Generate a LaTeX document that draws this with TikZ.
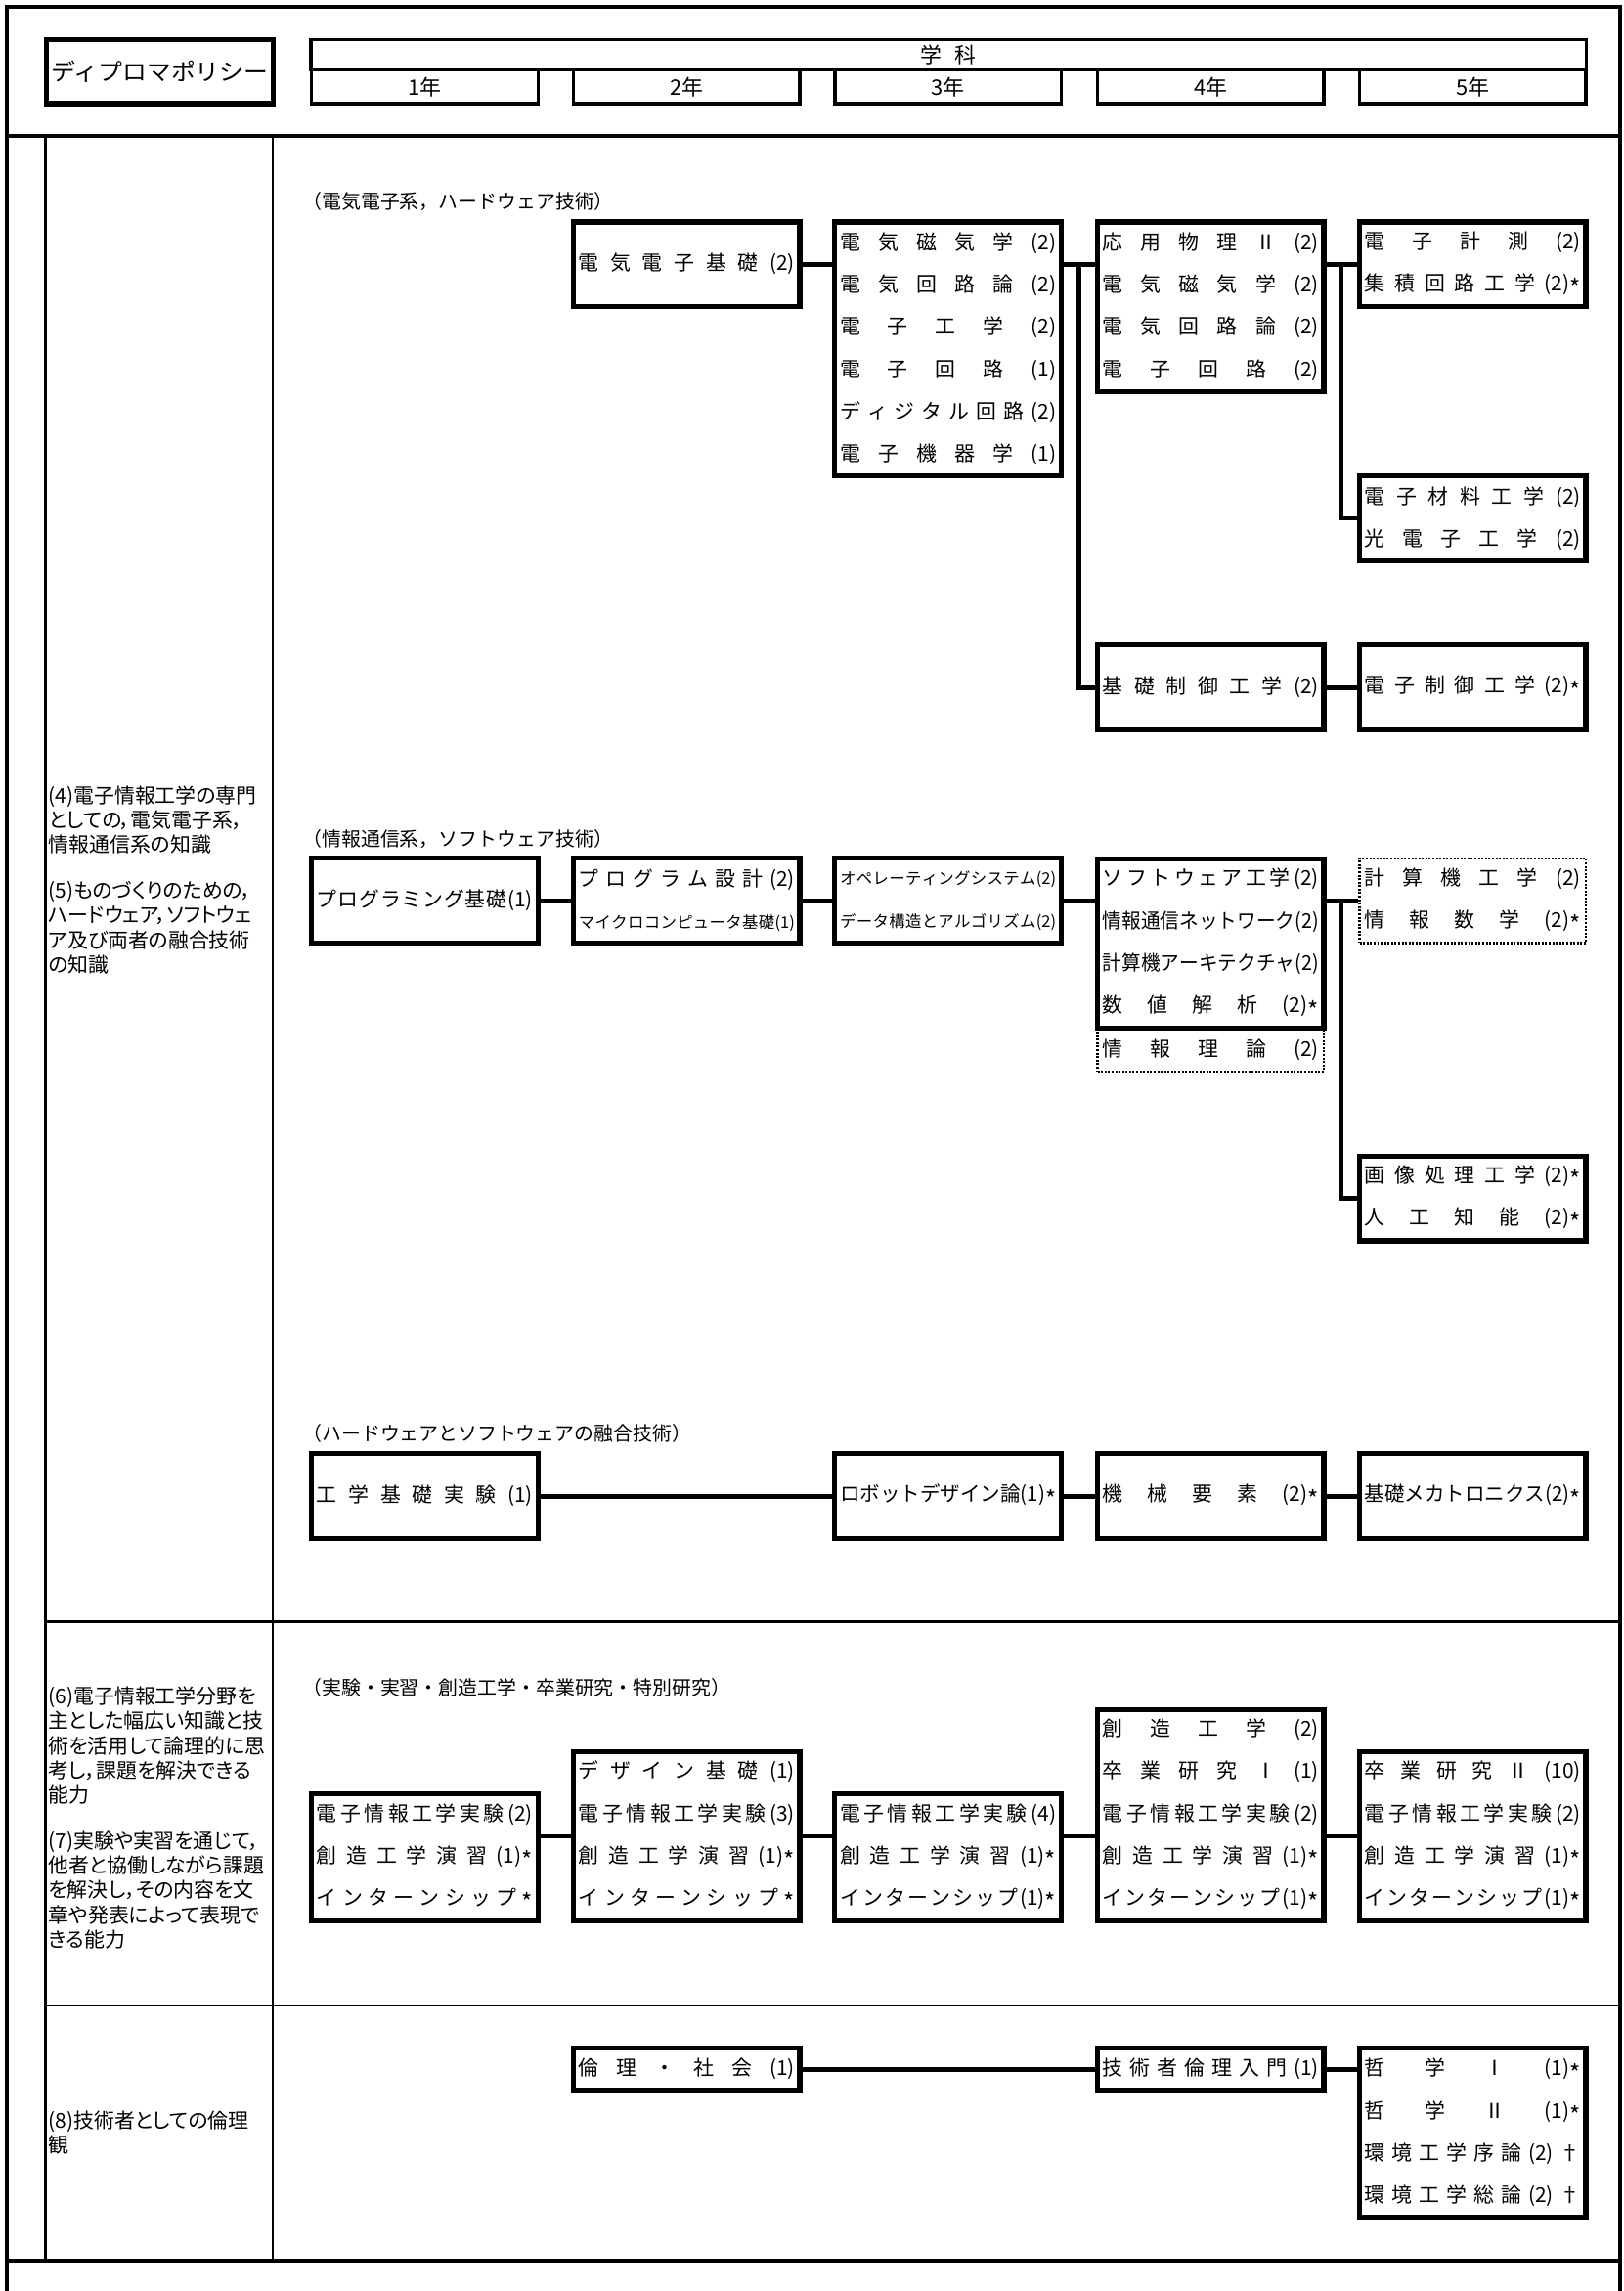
\documentclass[tikz,border=0pt]{standalone}
\usepackage{fontspec}
\usepackage{graphicx}
\setmainfont{Noto Sans CJK JP}
\newfontfamily\pfont{Noto Sans CJK JP}[RawFeature=+palt]
\newsavebox\rwbox
\newlength\rwwd
\setlength\rwwd{111pt}
\newcommand\rw[1]{{\spaceskip=0pt plus 1fil\relax\sbox\rwbox{#1}\ifdim\wd\rwbox>\rwwd\resizebox{\rwwd}{\ht\rwbox}{\usebox\rwbox}\else\makebox[\rwwd][s]{#1}\fi}}
\newcommand\sm[1]{{\fontsize{8.25pt}{10pt}\selectfont #1}}
\newcommand\ask{\raisebox{-.3em}{\scalebox{1.15}{*}}}
\tikzset{
  box/.style={draw, line width=2.6pt, minimum width=116.25pt, inner sep=0pt, align=center,
    font=\fontsize{10.5pt}{21.75pt}\selectfont},
  dbox/.style={box, line width=1.2pt, dash pattern=on 1pt off 0.8pt},
  nr/.style={minimum height=#1*21.75pt},
  conn/.style={line width=2.4pt},
  frameline/.style={line width=2pt},
  thinline/.style={line width=1.3pt},
  yearbox/.style={draw, line width=1.6pt, minimum width=116.25pt, minimum height=17.25pt, inner sep=0pt,
    font=\fontsize{11pt}{13pt}\selectfont},
  ltext/.style={anchor=north west, align=left, inner sep=0pt, font=\pfont\fontsize{10.5pt}{12.75pt}\selectfont},
  lab/.style={anchor=west, inner sep=0pt, font=\fontsize{10pt}{12pt}\selectfont}
}
\begin{document}
\begin{tikzpicture}[x=0.75pt,y=-0.75pt]
\useasboundingbox (0,0) rectangle (1112,1569.5);
% frame
\draw[frameline] (5,1572) -- (5,5) -- (1110,5) -- (1110,1572);
\draw[frameline] (5,93) -- (1110,93);
\draw[thinline] (31,93) -- (31,1549);
\draw[thinline] (187,93) -- (187,1549);
\draw[thinline] (31,1111) -- (1110,1111);
\draw[thinline] (31,1374) -- (1110,1374);
\draw[frameline] (5,1549) -- (1110,1549);
% header
\node[draw, line width=2.6pt, minimum width=116.25pt, minimum height=33pt, inner sep=0pt] (dp) at (109.5,49)
  {\scalebox{1.04}[1]{\fontsize{12pt}{14pt}\selectfont ディプロマポリシー}};
\node[draw, line width=1.6pt, minimum width=655.5pt, minimum height=15.75pt, inner sep=0pt,
  font=\fontsize{11pt}{13pt}\selectfont] (gk) at (650,37.5) {学\hspace{0.6em}科};
\node[yearbox] (y1) at (291,59.5) {1年};
\node[yearbox] (y2) at (470.5,59.5) {2年};
\node[yearbox] (y3) at (649.5,59.5) {3年};
\node[yearbox] (y4) at (829.5,59.5) {4年};
\node[yearbox] (y5) at (1009,59.5) {5年};
% left texts
\node[ltext] (p45) at (33,538) {(4)電子情報工学の専門\\としての，電気電子系，\\情報通信系の知識\\[10.5pt](5)ものづくりのための，\\ハードウェア，ソフトウェ\\ア及び両者の融合技術\\の知識};
\node[ltext] (p67) at (33,1155) {(6)電子情報工学分野を\\主とした幅広い知識と技\\術を活用して論理的に思\\考し，課題を解決できる\\能力\\[10.5pt](7)実験や実習を通じて，\\他者と協働しながら課題\\を解決し，その内容を文\\章や発表によって表現で\\きる能力};
\node[ltext] (p8) at (33,1446) {(8)技術者としての倫理\\観};
% labels
\node[lab] (l1) at (207,138) {（電気電子系，ハードウェア技術）};
\node[lab] (l2) at (207,575) {（情報通信系，ソフトウェア技術）};
\node[lab] (l3) at (207,982) {（ハードウェアとソフトウェアの融合技術）};
\node[lab] (l4) at (207,1156) {（実験・実習・創造工学・卒業研究・特別研究）};
% block 1
\node[box,nr=2] (b11) at (470.5,181) {\rw{電 気 電 子 基 礎 (2)}};
\node[box,nr=6] (b12) at (649.5,239) {\rw{電 気 磁 気 学 (2)}\\\rw{電 気 回 路 論 (2)}\\\rw{電 子 工 学 (2)}\\\rw{電 子 回 路 (1)}\\\rw{デ ィ ジ タ ル 回 路 (2)}\\\rw{電 子 機 器 学 (1)}};
\node[box,nr=4] (b13) at (829.5,210) {\rw{応 用 物 理 Ⅱ (2)}\\\rw{電 気 磁 気 学 (2)}\\\rw{電 気 回 路 論 (2)}\\\rw{電 子 回 路 (2)}};
\node[box,nr=2] (b14) at (1009,181) {\rw{電 子 計 測 (2)}\\\rw{集 積 回 路 工 学 (2)\ask}};
\node[box,nr=2] (b15) at (1009,355) {\rw{電 子 材 料 工 学 (2)}\\\rw{光 電 子 工 学 (2)}};
\node[box,nr=2] (b16) at (829.5,471) {\rw{基 礎 制 御 工 学 (2)}};
\node[box,nr=2] (b17) at (1009,471) {\rw{電 子 制 御 工 学 (2)\ask}};
\coordinate (j1) at (739,181);
\coordinate (j2) at (919,181);
\draw[conn] (b11.east) -- (b12.west |- b11.east);
\draw[conn] (b12.east |- b11.east) -- (b13.west |- b11.east);
\draw[conn] (j1) |- (b16.west);
\draw[conn] (b13.east |- b11.east) -- (b14.west);
\draw[conn] (j2) |- (b15.west);
\draw[conn] (b16) -- (b17);
% block 2
\node[box,nr=2] (b21) at (291,617) {\rw{プ ロ グ ラ ミ ン グ 基 礎 (1)}};
\node[box,nr=2] (b22) at (470.5,617) {\rw{プ ロ グ ラ ム 設 計 (2)}\\\rw{\sm{マ イ ク ロ コ ン ピ ュ ー タ 基 礎 (1)}}};
\node[box,nr=2] (b23) at (649.5,617) {\rw{\sm{オ ペ レ ー テ ィ ン グ シ ス テ ム (2)}}\\\rw{\sm{デ ー タ 構 造 と ア ル ゴ リ ズ ム (2)}}};
\node[dbox,nr=1] (b24b) at (829.5,719.5) {\rw{情 報 理 論 (2)}};
\node[box,nr=4] (b24) at (829.5,646.5) {\rw{ソ フ ト ウ ェ ア 工 学 (2)}\\\rw{情 報 通 信 ネ ッ ト ワ ー ク (2)}\\\rw{計 算 機 ア ー キ テ ク チ ャ (2)}\\\rw{数 値 解 析 (2)\ask}};
\node[dbox,nr=2] (b25) at (1009,617) {\rw{計 算 機 工 学 (2)}\\\rw{情 報 数 学 (2)\ask}};
\node[box,nr=2] (b26) at (1009,821) {\rw{画 像 処 理 工 学 (2)\ask}\\\rw{人 工 知 能 (2)\ask}};
\coordinate (j3) at (919,617);
\draw[conn] (b21) -- (b22);
\draw[conn] (b22) -- (b23);
\draw[conn] (b23.east) -- (b24.west |- b23.east);
\draw[conn] (b24.east |- b23.east) -- (b25.west);
\draw[conn] (j3) |- (b26.west);
% block 3
\node[box,nr=2] (b31) at (291,1025) {\rw{工 学 基 礎 実 験 (1)}};
\node[box,nr=2] (b32) at (649.5,1025) {\rw{ロ ボ ッ ト デ ザ イ ン 論 (1)\ask}};
\node[box,nr=2] (b33) at (829.5,1025) {\rw{機 械 要 素 (2)\ask}};
\node[box,nr=2] (b34) at (1009,1025) {\rw{基 礎 メ カ ト ロ ニ ク ス (2)\ask}};
\draw[conn] (b31) -- (b32);
\draw[conn] (b32) -- (b33);
\draw[conn] (b33) -- (b34);
% block 4
\node[box,nr=3] (b41) at (291,1272.5) {\rw{電 子 情 報 工 学 実 験 (2)}\\\rw{創 造 工 学 演 習 (1)\ask}\\\rw{イ ン タ ー ン シ ッ プ \ask}};
\node[box,nr=4] (b42) at (470.5,1258) {\rw{デ ザ イ ン 基 礎 (1)}\\\rw{電 子 情 報 工 学 実 験 (3)}\\\rw{創 造 工 学 演 習 (1)\ask}\\\rw{イ ン タ ー ン シ ッ プ \ask}};
\node[box,nr=3] (b43) at (649.5,1272.5) {\rw{電 子 情 報 工 学 実 験 (4)}\\\rw{創 造 工 学 演 習 (1)\ask}\\\rw{イ ン タ ー ン シ ッ プ (1)\ask}};
\node[box,nr=5] (b44) at (829.5,1243.5) {\rw{創 造 工 学 (2)}\\\rw{卒 業 研 究 Ⅰ (1)}\\\rw{電 子 情 報 工 学 実 験 (2)}\\\rw{創 造 工 学 演 習 (1)\ask}\\\rw{イ ン タ ー ン シ ッ プ (1)\ask}};
\node[box,nr=4] (b45) at (1009,1258) {\rw{卒 業 研 究 Ⅱ (10)}\\\rw{電 子 情 報 工 学 実 験 (2)}\\\rw{創 造 工 学 演 習 (1)\ask}\\\rw{イ ン タ ー ン シ ッ プ (1)\ask}};
\draw[conn] (b41.east |- b42.center) -- (b42.west);
\draw[conn] (b42.east) -- (b43.west |- b42.center);
\draw[conn] (b43.east |- b42.center) -- (b44.west |- b42.center);
\draw[conn] (b44.east |- b42.center) -- (b45.west);
% block 5
\node[box,nr=1] (b51) at (470.5,1417.5) {\rw{倫 理 ・ 社 会 (1)}};
\node[box,nr=1] (b52) at (829.5,1417.5) {\rw{技 術 者 倫 理 入 門 (1)}};
\node[box,nr=4] (b53) at (1009,1461) {\rw{哲 学 Ⅰ (1)\ask}\\\rw{哲 学 Ⅱ (1)\ask}\\\rw{環 境 工 学 序 論 (2) †}\\\rw{環 境 工 学 総 論 (2) †}};
\draw[conn] (b51) -- (b52);
\draw[conn] (b52.east) -- (b53.west |- b52.east);
\end{tikzpicture}
\end{document}
